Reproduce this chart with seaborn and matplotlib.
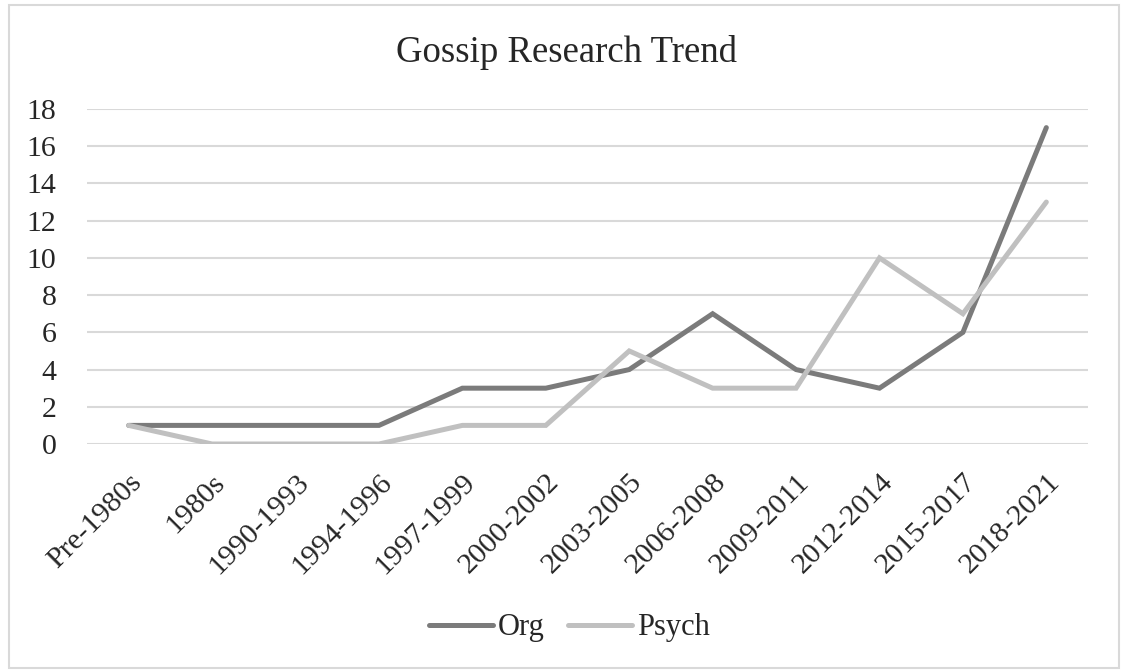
import matplotlib
matplotlib.use("Agg")
import matplotlib.pyplot as plt
import seaborn as sns
import pandas as pd
from matplotlib.patches import Rectangle

periods = ["Pre-1980s", "1980s", "1990-1993", "1994-1996", "1997-1999", "2000-2002",
           "2003-2005", "2006-2008", "2009-2011", "2012-2014", "2015-2017", "2018-2021"]
org = [1, 1, 1, 1, 3, 3, 4, 7, 4, 3, 6, 17]
psych = [1, 0, 0, 0, 1, 1, 5, 3, 3, 10, 7, 13]
yticks = [0, 2, 4, 6, 8, 10, 12, 14, 16, 18]
title = "Gossip Research Trend"

df = pd.DataFrame({
    "Period": periods * 2,
    "Count": org + psych,
    "Series": ["Org"] * len(periods) + ["Psych"] * len(periods),
})

sns.set_theme(style="white")
plt.rcParams["font.family"] = ["Liberation Serif", "DejaVu Serif"]

fig = plt.figure(figsize=(11.21, 6.70), dpi=100)
ax = fig.add_axes([0.0776, 0.3373, 0.8930, 0.5000])

palette = {"Org": "#7b7b7b", "Psych": "#c0c0c0"}
sns.lineplot(data=df, x="Period", y="Count", hue="Series", palette=palette,
             sort=False, linewidth=3.6, ax=ax, legend=True)
for ln in ax.lines:
    ln.set_solid_capstyle("round")
    ln.set_solid_joinstyle("miter")

ax.set_xlim(-0.5, len(periods) - 0.5)
ax.set_ylim(0, 18)
ax.set_yticks(yticks)
ax.yaxis.grid(True, color="#d9d9d9", linewidth=1.5)
ax.set_axisbelow(True)
for s in ax.spines.values():
    s.set_visible(False)
ax.set_xlabel("")
ax.set_ylabel("")
ax.tick_params(axis="y", labelsize=21.5, colors="#262626", pad=22, length=0)
ax.tick_params(axis="x", labelsize=21.5, colors="#262626", pad=18, length=0)
plt.setp(ax.get_xticklabels(), rotation=45, ha="right", rotation_mode="anchor")

fig.text(0.505, 1 - 62 / 670, title, ha="center", va="baseline", fontsize=26.5,
         color="#262626")

handles, labels = ax.get_legend_handles_labels()
ax.legend(handles, labels, loc="center", bbox_to_anchor=(0.508, 1 - 628 / 670),
          bbox_transform=fig.transFigure, ncol=2, frameon=False, fontsize=22,
          handlelength=2.1, handletextpad=0.16, columnspacing=0.75,
          labelcolor="#262626")

fig.patches.append(Rectangle((9 / 1121, 2 / 670), 1110 / 1121, 663 / 670,
                             transform=fig.transFigure, fill=False,
                             edgecolor="#d9d9d9", linewidth=1.5))

fig.savefig("out.png", dpi=100, facecolor="white")
